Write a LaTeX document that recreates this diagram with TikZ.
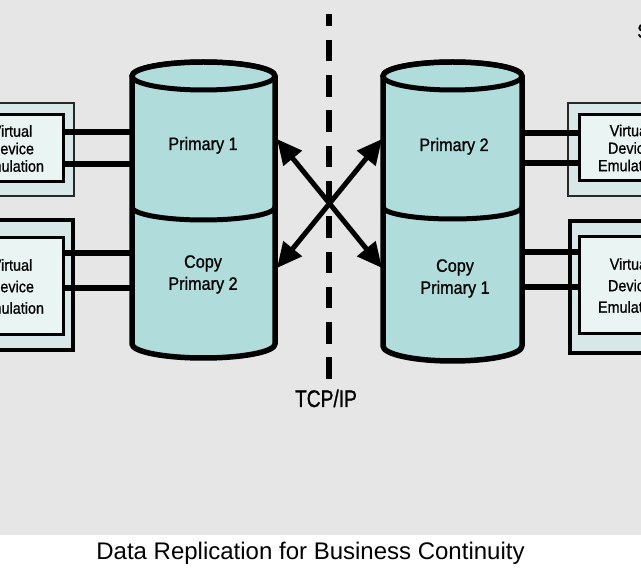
\documentclass[tikz,border=0pt]{standalone}
\usepackage{fontspec}
\usetikzlibrary{arrows.meta}
\newfontfamily\lblfont[FakeStretch=0.9,FakeBold=0.8]{Liberation Sans}
\newfontfamily\tcpfont[FakeStretch=0.8,FakeBold=1]{Liberation Sans}
\newfontfamily\capfont{Liberation Sans}
\definecolor{bggray}{RGB}{230,230,230}
\definecolor{cylfill}{RGB}{176,220,220}
\definecolor{outerfill}{RGB}{216,232,232}
\definecolor{innerfill}{RGB}{234,244,242}
\definecolor{outerline}{RGB}{40,40,40}
\tikzset{
  cylbody/.style={fill=cylfill, draw=black, line width=5.5pt, line join=round},
  cylline/.style={draw=black, line width=5pt},
  outerbox/.style={rectangle, fill=outerfill, draw=outerline, line width=2.5pt, inner sep=0pt},
  outerboxb/.style={rectangle, fill=outerfill, draw=black, line width=4pt, inner sep=0pt},
  innerbox/.style={rectangle, fill=innerfill, draw=black, line width=3pt, inner sep=0pt, align=center, minimum width=102pt},
  boxtexta/.style={font=\lblfont\fontsize{16}{17.5}\selectfont},
  boxtextb/.style={font=\lblfont\fontsize{16}{21.5}\selectfont},
  cyltext/.style={inner sep=0pt, align=center, font=\lblfont\fontsize{18}{22}\selectfont},
  link/.style={draw=black, line width=6pt},
  xarrow/.style={draw=black, line width=5pt, {Triangle[length=25pt,width=23pt]}-{Triangle[length=25pt,width=23pt]}},
  netline/.style={draw=black, line width=6pt, dash pattern=on 21.5pt off 13.8pt, dash phase=9.5pt}
}
\begin{document}
\begin{tikzpicture}[x=1pt,y=-1pt]
\useasboundingbox (0,0) rectangle (641,572);
\clip (0,0) rectangle (641,572);
\fill[white] (0,0) rectangle (641,572);
\fill[bggray] (0,0) rectangle (641,535);

% network line
\coordinate (nettop) at (329,14);
\coordinate (netbot) at (329,379);
\draw[netline] (nettop) -- (netbot);

% left cylinder
\path[cylbody] (132,76) -- (132,344) arc[start angle=180,end angle=0,x radius=71.5,y radius=14] -- (275,76) arc[start angle=0,end angle=-180,x radius=71.5,y radius=14] -- cycle;
\draw[cylline] (203.5,76) ellipse[x radius=71.5,y radius=14];
\draw[cylline] (132,207) arc[start angle=180,end angle=0,x radius=71.5,y radius=13];

% right cylinder
\path[cylbody] (383,76) -- (383,346) arc[start angle=180,end angle=0,x radius=69.5,y radius=15] -- (522,76) arc[start angle=0,end angle=-180,x radius=69.5,y radius=14] -- cycle;
\draw[cylline] (452.5,76) ellipse[x radius=69.5,y radius=14];
\draw[cylline] (383,207) arc[start angle=180,end angle=0,x radius=69.5,y radius=12];

% cylinder labels
\node[cyltext, anchor=base] (p1) at (203,150) {Primary 1};
\node[cyltext] (cp2) at (203,274.4) {Copy\\Primary 2};
\node[cyltext, anchor=base] (p2) at (454,151) {Primary 2};
\node[cyltext] (cp1) at (455,278.4) {Copy\\Primary 1};

% left boxes
\node[outerbox, minimum width=124pt, minimum height=93pt] (lo1) at (12,149.5) {};
\node[innerbox, boxtexta, minimum height=67pt] (li1) at (12,148.5) {Virtual\\Device\\Emulation};
\node[outerboxb, minimum width=123pt, minimum height=130pt] (lo2) at (11.5,285) {};
\node[innerbox, boxtextb, minimum height=97pt] (li2) at (12,286.5) {Virtual\\Device\\Emulation};

% right boxes
\node[outerbox, minimum width=124pt, minimum height=93pt] (ro1) at (630,149.5) {};
\node[innerbox, boxtexta, minimum height=66pt] (ri1) at (630,148) {Virtual\\Device\\Emulation};
\node[outerboxb, minimum width=122pt, minimum height=132pt] (ro2) at (631,287) {};
\node[innerbox, boxtextb, minimum height=97pt] (ri2) at (630,285.5) {Virtual\\Device\\Emulation};

% connection points on cylinders
\coordinate (lc1a) at (133,132);
\coordinate (lc1b) at (133,164);
\coordinate (lc2a) at (133,253);
\coordinate (lc2b) at (133,288);
\coordinate (rc1a) at (522,133);
\coordinate (rc1b) at (522,163);
\coordinate (rc2a) at (522,252);
\coordinate (rc2b) at (522,287);

\draw[link] (li1.east |- lc1a) -- (lc1a);
\draw[link] (li1.east |- lc1b) -- (lc1b);
\draw[link] (li2.east |- lc2a) -- (lc2a);
\draw[link] (li2.east |- lc2b) -- (lc2b);
\draw[link] (rc1a) -- (ri1.west |- rc1a);
\draw[link] (rc1b) -- (ri1.west |- rc1b);
\draw[link] (rc2a) -- (ri2.west |- rc2a);
\draw[link] (rc2b) -- (ri2.west |- rc2b);

% cross arrows
\coordinate (ul) at (277,139);
\coordinate (ll) at (277,268);
\coordinate (ur) at (382,139);
\coordinate (lr) at (382,268);
\draw[xarrow] (ul) -- (lr);
\draw[xarrow] (ll) -- (ur);

% labels
\node[inner sep=0pt, anchor=base, font=\tcpfont\fontsize{24}{28}\selectfont] (tcp) at (326,407) {TCP/IP};
\node[inner sep=0pt, anchor=base west, font=\lblfont\fontsize{20}{24}\selectfont] (site) at (637,38) {S};
\node[inner sep=0pt, anchor=base, font=\capfont\fontsize{24}{28}\selectfont] (caption) at (310.5,559) {Data Replication for Business Continuity};
\end{tikzpicture}
\end{document}
